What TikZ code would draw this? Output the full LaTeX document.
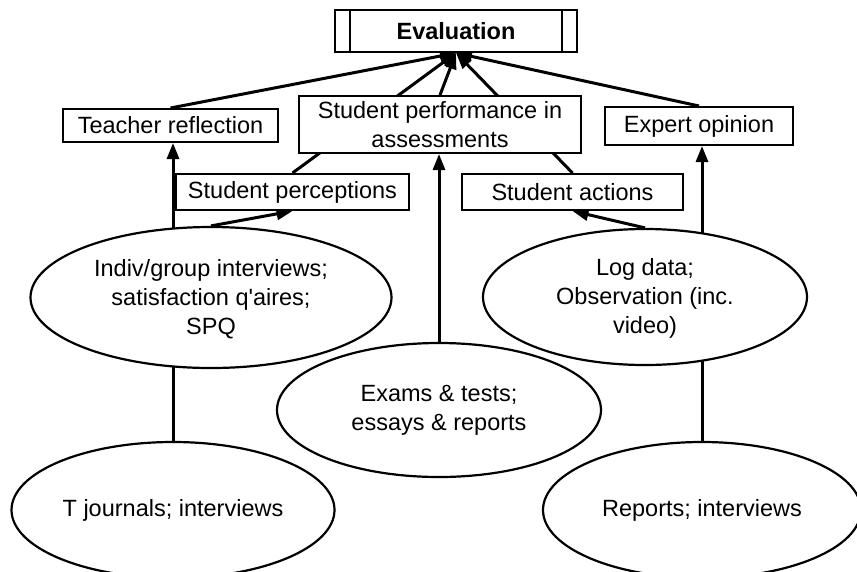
\documentclass[tikz,border=0pt]{standalone}
\usepackage{fontspec}
\setmainfont{Liberation Sans}
\usetikzlibrary{arrows.meta,backgrounds,shapes.geometric}
\begin{document}
\begin{tikzpicture}[x=1pt,y=-1pt,
  every node/.style={font=\fontsize{23.5}{29}\selectfont, inner sep=0pt, align=center, fill=white},
  box/.style={draw, line width=2pt},
  oval/.style={ellipse, draw, line width=2.2pt},
  link/.style={line width=3pt, -{Triangle[length=16pt,width=12pt]}}]

\path[use as bounding box, clip] (0,0) rectangle (857,571);

% outcome boxes
\node[box, minimum width=242pt, minimum height=42pt] (ev) at (456,31) {\bfseries Evaluation};
\draw[line width=2pt] ([xshift=16pt]ev.north west) -- ([xshift=16pt]ev.south west);
\draw[line width=2pt] ([xshift=-16pt]ev.north east) -- ([xshift=-16pt]ev.south east);

\node[box, minimum width=215pt, minimum height=33pt] (tr) at (170.5,125.5) {Teacher reflection};
\node[box, minimum width=282pt, minimum height=57pt] (perf) at (440,124.5) {Student performance in\\assessments};
\node[box, minimum width=188pt, minimum height=38pt] (eo) at (699,126) {Expert opinion};
\node[box, minimum width=233pt, minimum height=36pt] (sp) at (292.5,192) {Student perceptions};
\node[box, minimum width=221pt, minimum height=36pt] (sa) at (572.5,192) {Student actions};

% data sources
\node[oval, minimum width=361pt, minimum height=141pt] (ig) at (211,297.5) {\strut Indiv/group interviews;\\satisfaction q\textquotesingle aires;\\SPQ};
\node[oval, minimum width=324pt, minimum height=136pt] (ld) at (645,297) {\strut Log data;\\Observation (inc.\\video)};
\node[oval, minimum width=324pt, minimum height=134pt] (ex) at (439,410) {Exams \& tests;\\essays \& reports};
\node[oval, minimum width=323pt, minimum height=136pt] (tj) at (173,510) {T journals; interviews};
\node[oval, minimum width=318pt, minimum height=136pt] (rp) at (702,510) {Reports; interviews};

% connectors, drawn behind the white-filled shapes
\begin{pgfonlayer}{background}
\draw[link] (tr.north) -- (ev.south);
\draw[link] (sp.north) -- (ev.south);
\draw[link] (perf.north) -- (ev.south);
\draw[link] (sa.north) -- (ev.south);
\draw[link] (eo.north) -- (ev.south);
\draw[link] (ig.north) -- (sp.south);
\draw[link] (ld.north) -- (sa.south);
\draw[link] (tj.north) -- (tj.north |- tr.south);
\draw[link] (rp.north) -- (rp.north |- eo.south);
\draw[link] (ex.north) -- (ex.north |- perf.south);
\end{pgfonlayer}
\end{tikzpicture}
\end{document}
